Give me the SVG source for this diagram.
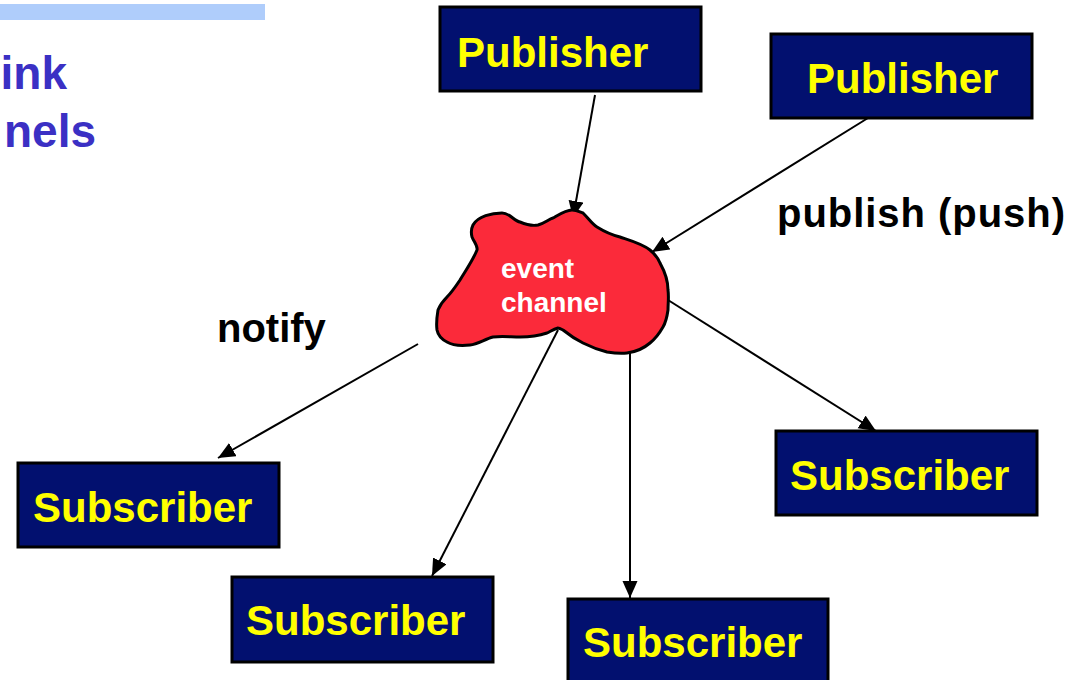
<svg xmlns="http://www.w3.org/2000/svg" width="1088" height="680" viewBox="0 0 1088 680">
  <style>
    .box rect { fill: #02106f; stroke: #000; stroke-width: 3; }
    .box text { font-family: "Liberation Sans", Arial, sans-serif; font-weight: bold; font-size: 42px; fill: #ffff00; }
    .title { font-family: "Liberation Sans", Arial, sans-serif; font-weight: bold; font-size: 46px; fill: #3b30c4; text-anchor: end; }
    .label { font-family: "Liberation Sans", Arial, sans-serif; font-weight: bold; fill: #000; }
    .cloud-text { font-family: "Liberation Sans", Arial, sans-serif; font-weight: bold; font-size: 28px; fill: #fff; }
    .conn { stroke: #000; stroke-width: 2; fill: none; marker-end: url(#arrow); }
  </style>
  <defs>
    <marker id="arrow" markerUnits="userSpaceOnUse" markerWidth="18" markerHeight="16" refX="17" refY="7.5" orient="auto">
      <path d="M0,0 L17,7.5 L0,15 Z" fill="#000"/>
    </marker>
  </defs>

  <rect width="1088" height="680" fill="#fff"/>

  <!-- slide heading strip and truncated title -->
  <rect x="0" y="4" width="265" height="16" fill="#afcdfb"/>
  <text class="title" x="67" y="89">ink</text>
  <text class="title" x="96" y="147">nels</text>

  <!-- connectors -->
  <g id="connectors">
    <line class="conn" x1="595" y1="95" x2="573" y2="218"/>
    <line class="conn" x1="868" y1="118" x2="652" y2="252"/>
    <line class="conn" x1="418" y1="344" x2="218" y2="458"/>
    <line class="conn" x1="558" y1="330" x2="432" y2="576"/>
    <line class="conn" x1="630" y1="350" x2="630" y2="598"/>
    <line class="conn" x1="668" y1="300" x2="876" y2="431"/>
  </g>

  <!-- event channel cloud -->
  <g id="event-channel">
    <path d="M473,225 C478,216 492,213 502,213 C510,213 514,221 520,222 C527,225 533,226 538,225 C545,223 549,219 553,218 C560,214 566,210 572,210 C577,210 580,212 583,213 C589,219 592,224 597,227 C605,232 612,235 620,237 C632,241 643,244 650,250 C656,255 658,258 660,263 C665,272 668,280 668,290 C669,297 668,303 668,310 C667,317 666,322 663,327 C659,334 655,339 650,343 C643,349 635,352 627,353 C620,354 613,353 607,352 C599,350 591,347 583,343 C575,339 568,334 563,330 C561,329 559,328 558,328 C554,329 551,331 547,333 C538,336 529,337 520,337 C511,337 502,336 493,337 C485,339 478,344 470,345 C461,346 452,345 447,342 C441,339 438,335 437,330 C436,323 437,316 438,310 C440,305 443,301 447,297 C452,292 456,286 460,280 C466,270 473,260 477,250 C478,246 474,242 472,237 C471,233 471,229 473,225 Z" fill="#fb2a3a" stroke="#000" stroke-width="3" stroke-linejoin="round"/>
    <text class="cloud-text" x="501" y="278">event</text>
    <text class="cloud-text" x="501" y="312">channel</text>
  </g>

  <!-- connector labels -->
  <text class="label" x="777" y="227" font-size="40" textLength="288" lengthAdjust="spacing">publish (push)</text>
  <text class="label" x="217" y="342" font-size="40">notify</text>

  <!-- publishers -->
  <g id="publisher-1" class="box">
    <rect x="440" y="7" width="261" height="84"/>
    <text x="457" y="67">Publisher</text>
  </g>
  <g id="publisher-2" class="box">
    <rect x="771" y="34" width="261" height="84"/>
    <text x="807" y="93">Publisher</text>
  </g>

  <!-- subscribers -->
  <g id="subscriber-left" class="box">
    <rect x="18" y="463" width="261" height="84"/>
    <text x="33" y="522">Subscriber</text>
  </g>
  <g id="subscriber-bottom-left" class="box">
    <rect x="232" y="577" width="261" height="85"/>
    <text x="246" y="635">Subscriber</text>
  </g>
  <g id="subscriber-bottom-right" class="box">
    <rect x="568" y="599" width="260" height="90"/>
    <text x="583" y="657">Subscriber</text>
  </g>
  <g id="subscriber-right" class="box">
    <rect x="776" y="431" width="261" height="84"/>
    <text x="790" y="490">Subscriber</text>
  </g>
</svg>
